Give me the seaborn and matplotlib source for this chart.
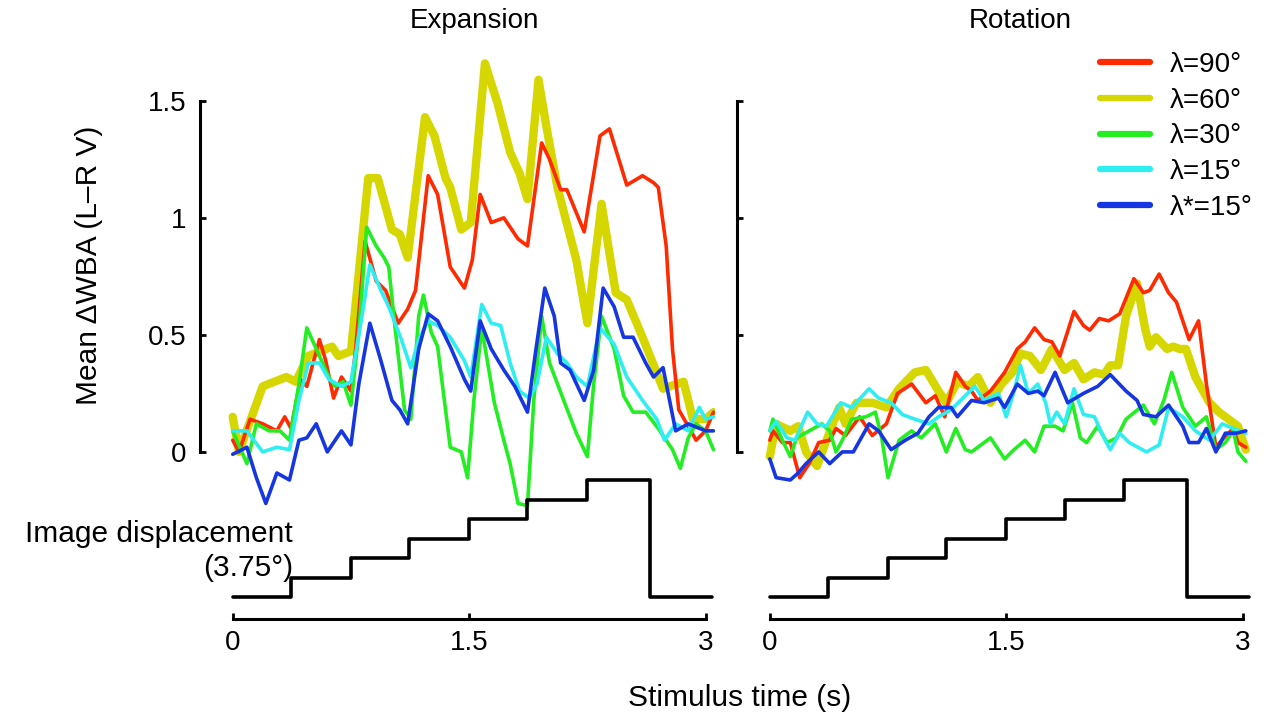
import numpy as np
import pandas as pd
import matplotlib
matplotlib.use("Agg")
import matplotlib.pyplot as plt
import seaborn as sns
from matplotlib.lines import Line2D

sns.set_theme(style="white")
plt.rcParams["font.family"] = ["Liberation Sans", "DejaVu Sans"]
plt.rcParams["text.color"] = "black"
plt.rcParams["axes.labelcolor"] = "black"
plt.rcParams["xtick.color"] = "black"
plt.rcParams["ytick.color"] = "black"

# ---------------- data: Expansion ----------------
exp_t_90 = [0, 0.04, 0.11, 0.19, 0.28, 0.33, 0.37, 0.43, 0.47, 0.55, 0.59, 0.64, 0.69, 0.75, 0.78, 0.84, 0.91, 0.97, 1.05, 1.11,
            1.16, 1.24, 1.30, 1.38, 1.47, 1.52, 1.57, 1.64, 1.72, 1.76, 1.81, 1.87, 1.96, 2.01, 2.08, 2.12, 2.23, 2.33, 2.39, 2.50,
            2.60, 2.67, 2.70, 2.75, 2.79, 2.83, 2.94, 3.00, 3.05]
exp_v_90 = [0.05, 0.0, 0.14, 0.12, 0.09, 0.15, 0.10, 0.31, 0.28, 0.48, 0.39, 0.23, 0.32, 0.26, 0.44, 0.90, 0.73, 0.69, 0.55, 0.61,
            0.69, 1.18, 1.10, 0.79, 0.70, 0.82, 1.10, 0.98, 1.00, 0.96, 0.91, 0.88, 1.32, 1.25, 1.12, 1.12, 0.94, 1.35, 1.38, 1.14,
            1.18, 1.15, 1.13, 0.88, 0.44, 0.18, 0.05, 0.09, 0.17]

exp_t_60 = [0, 0.04, 0.19, 0.34, 0.40, 0.48, 0.63, 0.67, 0.75, 0.86, 0.92, 1.01, 1.06, 1.11, 1.22, 1.28, 1.35, 1.38, 1.45, 1.51,
            1.60, 1.68, 1.76, 1.82, 1.87, 1.94, 1.99, 2.06, 2.18, 2.25, 2.34, 2.43, 2.50, 2.60, 2.73, 2.86, 2.92, 3.00, 3.05]
exp_v_60 = [0.15, 0.0, 0.28, 0.32, 0.30, 0.41, 0.45, 0.41, 0.43, 1.17, 1.17, 0.95, 0.93, 0.83, 1.43, 1.35, 1.17, 1.13, 0.95, 0.98,
            1.66, 1.49, 1.28, 1.19, 1.08, 1.59, 1.39, 1.13, 0.82, 0.55, 1.06, 0.68, 0.65, 0.49, 0.27, 0.30, 0.14, 0.14, 0.17]

exp_t_30 = [0, 0.09, 0.15, 0.23, 0.30, 0.36, 0.42, 0.47, 0.53, 0.61, 0.65, 0.70, 0.75, 0.80, 0.85, 0.91, 0.96, 0.99, 1.03, 1.09,
            1.13, 1.18, 1.21, 1.26, 1.30, 1.38, 1.45, 1.49, 1.53, 1.58, 1.66, 1.72, 1.76, 1.81, 1.87, 1.91, 1.96, 2.01, 2.10, 2.18,
            2.25, 2.29, 2.34, 2.42, 2.48, 2.54, 2.62, 2.70, 2.79, 2.84, 2.89, 2.94, 3.00, 3.05]
exp_v_30 = [0.09, -0.05, 0.12, 0.09, 0.09, 0.05, 0.29, 0.53, 0.44, 0.32, 0.28, 0.30, 0.20, 0.51, 0.96, 0.88, 0.83, 0.79, 0.53, 0.18,
            0.14, 0.58, 0.67, 0.51, 0.45, 0.02, 0.0, -0.11, 0.22, 0.53, 0.21, 0.05, -0.05, -0.22, -0.23, 0.22, 0.58, 0.38, 0.22, 0.08,
            -0.02, 0.29, 0.58, 0.44, 0.24, 0.17, 0.17, 0.10, 0.01, -0.07, 0.06, 0.12, 0.09, 0.01]

exp_t_15 = [0, 0.09, 0.19, 0.28, 0.36, 0.42, 0.48, 0.55, 0.61, 0.69, 0.75, 0.82, 0.87, 0.94, 0.99, 1.07, 1.13, 1.18, 1.24, 1.30,
            1.38, 1.47, 1.51, 1.58, 1.64, 1.70, 1.76, 1.82, 1.88, 1.93, 1.99, 2.06, 2.12, 2.18, 2.25, 2.33, 2.42, 2.50, 2.60, 2.69,
            2.74, 2.81, 2.89, 2.96, 3.00, 3.05]
exp_v_15 = [0.09, 0.09, 0.0, 0.02, 0.01, 0.22, 0.38, 0.38, 0.31, 0.28, 0.30, 0.58, 0.80, 0.69, 0.62, 0.48, 0.36, 0.48, 0.56, 0.54,
            0.49, 0.39, 0.32, 0.63, 0.55, 0.54, 0.38, 0.26, 0.23, 0.29, 0.49, 0.42, 0.38, 0.32, 0.28, 0.53, 0.46, 0.32, 0.22, 0.14,
            0.05, 0.12, 0.09, 0.19, 0.14, 0.15]

exp_t_15s = [0, 0.09, 0.15, 0.21, 0.28, 0.36, 0.42, 0.47, 0.53, 0.60, 0.69, 0.75, 0.80, 0.87, 0.94, 1.01, 1.06, 1.11, 1.18, 1.24,
             1.30, 1.38, 1.47, 1.51, 1.57, 1.64, 1.72, 1.79, 1.87, 1.92, 1.98, 2.04, 2.08, 2.14, 2.23, 2.29, 2.35, 2.42, 2.48, 2.54,
             2.62, 2.67, 2.73, 2.81, 2.89, 3.00, 3.05]
exp_v_15s = [-0.01, 0.02, -0.11, -0.22, -0.09, -0.12, 0.05, 0.06, 0.12, 0.0, 0.09, 0.03, 0.29, 0.55, 0.39, 0.22, 0.18, 0.12, 0.44, 0.59,
             0.56, 0.45, 0.31, 0.26, 0.56, 0.44, 0.35, 0.28, 0.17, 0.42, 0.70, 0.58, 0.38, 0.35, 0.22, 0.35, 0.70, 0.62, 0.49, 0.49,
             0.38, 0.32, 0.36, 0.09, 0.12, 0.09, 0.09]

# ---------------- data: Rotation ----------------
rot_t_90 = [0, 0.02, 0.08, 0.13, 0.19, 0.25, 0.31, 0.38, 0.42, 0.48, 0.57, 0.65, 0.74, 0.81, 0.90, 0.99, 1.05, 1.11, 1.18, 1.24,
            1.28, 1.32, 1.40, 1.49, 1.57, 1.62, 1.68, 1.74, 1.79, 1.84, 1.93, 1.99, 2.03, 2.09, 2.15, 2.22, 2.31, 2.37, 2.41, 2.47,
            2.53, 2.58, 2.66, 2.72, 2.77, 2.83, 2.88, 2.94, 2.97, 3.02]
rot_v_90 = [0.05, 0.09, 0.04, 0.04, -0.11, -0.05, 0.04, 0.05, 0.10, 0.07, 0.15, 0.07, 0.12, 0.25, 0.29, 0.21, 0.24, 0.15, 0.34, 0.28,
            0.26, 0.22, 0.26, 0.34, 0.44, 0.47, 0.53, 0.48, 0.47, 0.41, 0.60, 0.54, 0.52, 0.57, 0.56, 0.59, 0.74, 0.68, 0.69, 0.76,
            0.68, 0.64, 0.48, 0.56, 0.29, 0.02, 0.06, 0.10, 0.04, 0.02]

rot_t_60 = [0, 0.04, 0.13, 0.18, 0.23, 0.30, 0.36, 0.44, 0.48, 0.55, 0.65, 0.74, 0.82, 0.92, 0.99, 1.07, 1.12, 1.19, 1.26, 1.32,
            1.40, 1.47, 1.54, 1.59, 1.65, 1.72, 1.79, 1.87, 1.93, 1.99, 2.06, 2.12, 2.16, 2.21, 2.26, 2.33, 2.38, 2.41, 2.45, 2.52,
            2.56, 2.60, 2.64, 2.70, 2.79, 2.85, 2.91, 2.97, 3.02]
rot_v_60 = [-0.02, 0.12, 0.09, 0.11, 0.0, -0.06, 0.05, 0.19, 0.12, 0.21, 0.21, 0.19, 0.27, 0.34, 0.35, 0.26, 0.21, 0.30, 0.28, 0.32,
            0.21, 0.29, 0.34, 0.42, 0.41, 0.35, 0.44, 0.35, 0.38, 0.31, 0.34, 0.33, 0.37, 0.37, 0.58, 0.72, 0.53, 0.45, 0.49, 0.44,
            0.45, 0.44, 0.44, 0.32, 0.21, 0.17, 0.14, 0.11, 0.01]

rot_t_30 = [0, 0.02, 0.08, 0.13, 0.17, 0.25, 0.33, 0.38, 0.42, 0.46, 0.52, 0.61, 0.67, 0.71, 0.75, 0.82, 0.90, 0.96, 1.05, 1.12,
            1.18, 1.24, 1.28, 1.40, 1.49, 1.55, 1.62, 1.68, 1.74, 1.81, 1.86, 1.92, 1.97, 2.01, 2.08, 2.14, 2.20, 2.26, 2.37, 2.44,
            2.50, 2.55, 2.62, 2.70, 2.77, 2.83, 2.89, 2.94, 2.97, 3.02]
rot_v_30 = [0.09, 0.14, 0.05, -0.02, 0.06, 0.09, 0.12, 0.09, 0.0, 0.05, 0.14, 0.15, 0.17, 0.06, -0.11, 0.05, 0.09, 0.06, 0.12, 0.0,
            0.10, 0.01, 0.0, 0.06, -0.03, 0.01, 0.05, 0.0, 0.11, 0.11, 0.09, 0.21, 0.06, 0.04, 0.11, 0.04, 0.06, 0.14, 0.20, 0.12,
            0.22, 0.34, 0.19, 0.11, 0.15, 0.01, 0.04, 0.09, 0.0, -0.04]

rot_t_15 = [0, 0.04, 0.11, 0.16, 0.24, 0.30, 0.36, 0.45, 0.52, 0.63, 0.69, 0.77, 0.84, 0.92, 1.01, 1.07, 1.15, 1.24, 1.30, 1.36,
            1.45, 1.50, 1.55, 1.59, 1.64, 1.70, 1.75, 1.78, 1.82, 1.87, 1.93, 1.99, 2.06, 2.12, 2.16, 2.22, 2.28, 2.39, 2.47, 2.53,
            2.62, 2.70, 2.79, 2.87, 2.94, 3.02]
rot_v_15 = [0.09, 0.13, 0.06, 0.05, 0.17, 0.12, 0.11, 0.21, 0.19, 0.27, 0.23, 0.21, 0.16, 0.14, 0.12, 0.15, 0.18, 0.24, 0.28, 0.22,
            0.25, 0.15, 0.26, 0.37, 0.25, 0.29, 0.21, 0.12, 0.17, 0.12, 0.27, 0.16, 0.15, 0.06, 0.01, 0.08, 0.04, 0.0, 0.03, 0.19,
            0.15, 0.09, 0.05, 0.12, 0.10, 0.08]

rot_t_15s = [0, 0.04, 0.13, 0.18, 0.23, 0.31, 0.38, 0.46, 0.53, 0.63, 0.69, 0.77, 0.86, 0.94, 1.01, 1.07, 1.15, 1.19, 1.28, 1.36,
             1.45, 1.49, 1.57, 1.64, 1.70, 1.74, 1.81, 1.89, 1.99, 2.08, 2.16, 2.26, 2.33, 2.37, 2.45, 2.53, 2.62, 2.66, 2.72, 2.77,
             2.83, 2.89, 2.96, 3.02]
rot_v_15s = [-0.03, -0.11, -0.12, -0.09, -0.05, 0.0, -0.05, 0.0, 0.0, 0.12, 0.09, 0.01, 0.05, 0.08, 0.15, 0.19, 0.19, 0.15, 0.22, 0.21,
             0.23, 0.19, 0.29, 0.25, 0.26, 0.24, 0.34, 0.21, 0.25, 0.28, 0.33, 0.26, 0.22, 0.16, 0.15, 0.20, 0.11, 0.04, 0.04, 0.10,
             0.0, 0.08, 0.08, 0.09]

# ---------------- data: image displacement staircase ----------------
stair_t = [0, 0.37, 0.75, 1.12, 1.5, 1.87, 2.25, 2.65, 3.04]
stair_level = [0, 1, 2, 3, 4, 5, 6, 0, 0]

series_labels = ["λ=90°", "λ=60°", "λ=30°", "λ=15°", "λ*=15°"]
x_ticks = [0, 1.5, 3]
x_ticklabels = ["0", "1.5", "3"]
y_ticks = [0, 0.5, 1, 1.5]
y_ticklabels = ["0", "0.5", "1", "1.5"]
panel_titles = ["Expansion", "Rotation"]

# ---------------- styling ----------------
colors = {"λ=90°": "#FF2A00", "λ=60°": "#D6D600", "λ=30°": "#22EE22",
          "λ=15°": "#2EEEF2", "λ*=15°": "#1536E0"}
widths = {"λ=90°": 2.6, "λ=60°": 6.0, "λ=30°": 2.6, "λ=15°": 2.6, "λ*=15°": 2.6}
draw_order = ["λ=60°", "λ=90°", "λ=30°", "λ=15°", "λ*=15°"]
stair_base = -0.62
stair_step = 0.083
FS = 20


def panel_frame(ts, vs):
    rows = []
    for lab, t, v in zip(series_labels, ts, vs):
        rows.append(pd.DataFrame({"t": t, "v": v, "series": lab}))
    return pd.concat(rows, ignore_index=True)


df_exp = panel_frame([exp_t_90, exp_t_60, exp_t_30, exp_t_15, exp_t_15s],
                     [exp_v_90, exp_v_60, exp_v_30, exp_v_15, exp_v_15s])
df_rot = panel_frame([rot_t_90, rot_t_60, rot_t_30, rot_t_15, rot_t_15s],
                     [rot_v_90, rot_v_60, rot_v_30, rot_v_15, rot_v_15s])

fig = plt.figure(figsize=(12.73, 7.19), dpi=100)
axL = fig.add_axes([0.1791, 0.1273, 0.3826, 0.7976])
axR = fig.add_axes([0.601, 0.1273, 0.3826, 0.7976])

for ax, df, title, tx in [(axL, df_exp, panel_titles[0], 0.507), (axR, df_rot, panel_titles[1], 0.524)]:
    sns.lineplot(data=df, x="t", y="v", hue="series", hue_order=draw_order, palette=colors,
                 size="series", size_order=draw_order, sizes=widths,
                 estimator=None, sort=False, legend=False, ax=ax,
                 solid_joinstyle="round", solid_capstyle="round")
    stair_y = [stair_base + stair_step * lv for lv in stair_level]
    sns.lineplot(x=stair_t, y=stair_y, estimator=None, sort=False, drawstyle="steps-post",
                 color="black", lw=2.6, ax=ax)
    ax.set_xlim(-0.03, 3.06)
    ax.set_ylim(-0.75, 1.7)
    ax.set_xlabel("")
    ax.set_ylabel("")
    for s in ["top", "right"]:
        ax.spines[s].set_visible(False)
    ax.spines["left"].set_bounds(0, 1.5)
    ax.spines["left"].set_position(("outward", 20))
    ax.spines["bottom"].set_position(("data", -0.715))
    ax.spines["bottom"].set_bounds(0, 3)
    for s in ["left", "bottom"]:
        ax.spines[s].set_linewidth(2.2)
        ax.spines[s].set_color("black")
    ax.set_xticks(x_ticks)
    ax.set_xticklabels(x_ticklabels)
    ax.set_yticks(y_ticks)
    ax.set_yticklabels(y_ticklabels)
    ax.tick_params(axis="both", bottom=True, left=True, direction="in", length=4, width=2,
                   labelsize=FS, colors="black")
    ax.tick_params(axis="y", pad=10)
    ax.tick_params(axis="x", pad=8)
    ax.patch.set_alpha(0)
    ax.text(tx, 1.058, title, transform=ax.transAxes, ha="center", va="center", fontsize=FS)

axR.set_yticklabels([""] * len(y_ticks))

axL.set_ylabel("Mean ΔWBA (L–R V)", fontsize=21.5)
axL.yaxis.set_label_coords(-0.257, 0.632)

fig.text(293 / 1273, 1 - 551 / 719, "Image displacement\n(3.75°)", ha="right", va="center",
         multialignment="right", fontsize=21.5, linespacing=1.25)
fig.text(740 / 1273, 1 - 698 / 719, "Stimulus time (s)", ha="center", va="center", fontsize=21.5)

handles = [Line2D([], [], color=colors[l], lw=4.5) for l in series_labels]
fig.legend(handles, series_labels, loc="upper left", bbox_to_anchor=(1100 / 1273, 1 - 52 / 719),
           frameon=False, fontsize=FS, handlelength=1.8, handletextpad=0.7,
           labelspacing=0.35, borderaxespad=0, borderpad=0)

fig.savefig("out.png", dpi=100)
